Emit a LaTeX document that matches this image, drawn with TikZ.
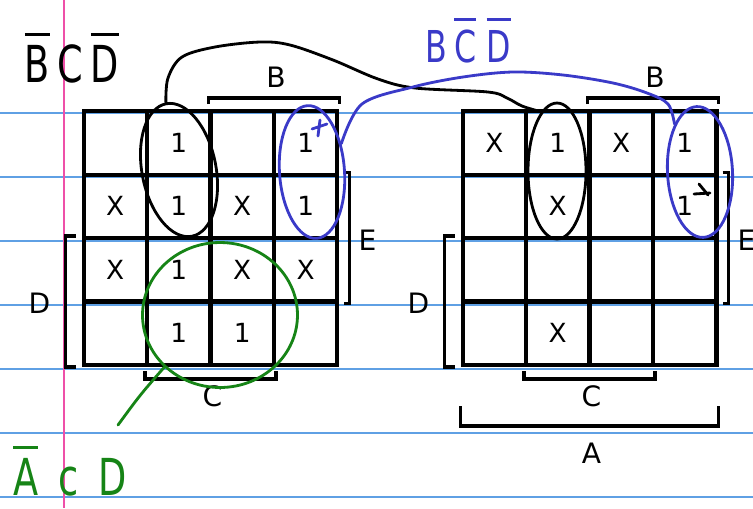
\documentclass[tikz,border=0pt]{standalone}
\usepackage{fontspec}
\setmainfont{DejaVu Sans}
\usetikzlibrary{positioning,calc,matrix,shapes.geometric}
\definecolor{penblue}{RGB}{58,58,200}
\definecolor{pengreen}{RGB}{22,132,22}
\definecolor{ruling}{RGB}{95,160,228}
\definecolor{pinkline}{RGB}{238,80,168}
\newcommand{\cmpl}[1]{\setbox0=\hbox{#1}\makebox[0pt][l]{\rule[\dimexpr\ht0+5pt\relax]{\wd0}{1.6pt}}\box0}
\newcommand{\scrawl}[1]{\scalebox{0.72}[1]{#1}}

\begin{document}
\begin{tikzpicture}[x=0.02cm,y=-0.02cm,
  kmap/.style={matrix of nodes,nodes in empty cells,row sep=-2.3pt,column sep=-2.3pt,
    nodes={draw,line width=2.3pt,minimum width=12.7mm,minimum height=12.7mm,anchor=center,font=\fontsize{15}{17}\selectfont}},
  brk/.style={line width=1.8pt},
  lbl/.style={font=\fontsize{16}{18}\selectfont},
  ink/.style={line width=1.6pt,line cap=round,line join=round},
  ring/.style={ink,draw,ellipse,inner sep=0pt},
  scr/.style={inner sep=0pt,anchor=base}]
\useasboundingbox (0,0) rectangle (753,508);
\fill[white] (0,0) rectangle (753,508);
\foreach \y in {113,177,...,497} \draw[ruling,line width=0.6pt] (0,\y) -- (753,\y);
\draw[pinkline,line width=0.8pt] (64,0) -- (64,508);
% the two maps
\matrix[kmap] (L) at (210.5,238) {
  & 1 & & 1 \\
X & 1 & X & 1 \\
X & 1 & X & X \\
  & 1 & 1 & \\
};
\matrix[kmap] (R) at (589.5,238) {
X & 1 & X & 1 \\
  & X & & 1 \\
  & & & \\
  & X & & \\
};
\foreach \m in {L,R} {
  \draw[brk] ($(\m-1-3.north west)+(0,-5)$) |- ($(\m-1-4.north east)+(0,-11)$) -- ++(0,6);
  \node[lbl] (\m B) at ($(\m-1-3.north east)+(0,-32)$) {B};
  \draw[brk] ($(\m-2-4.north east)+(4,0)$) -| ($(\m-3-4.south east)+(10,0)$) -- ++(-6,0);
  \node[lbl] (\m E) at ($(\m-2-4.south east)+(28,0)$) {E};
  \draw[brk] ($(\m-3-1.north west)+(-6,0)$) -| ($(\m-4-1.south west)+(-16,0)$) -- ++(10,0);
  \node[lbl] (\m D) at ($(\m-3-1.south west)+(-42,0)$) {D};
  \draw[brk] ($(\m-4-2.south west)+(0,4)$) |- ($(\m-4-3.south east)+(0,12)$) -- ++(0,-8);
  \node[lbl] (\m C) at ($(\m-4-2.south east)+(0,29)$) {C};
}
\draw[brk] ($(R-4-1.south west)+(0,39)$) |- ($(R-4-4.south east)+(0,59)$) -- ++(0,-20);
\node[lbl] (RA) at ($(R-4-2.south east)+(0,86)$) {A};
% pen marks
\node[ring,rotate=11,minimum width=1.48cm,minimum height=2.7cm] (blkL) at (179,170) {};
\node[ring,minimum width=1.16cm,minimum height=2.72cm] (blkR) at (557,171) {};
\node[ring,penblue,rotate=4,minimum width=1.3cm,minimum height=2.66cm] (bluL) at (312,172) {};
\node[ring,penblue,rotate=3,minimum width=1.3cm,minimum height=2.62cm] (bluR) at (700,172) {};
\node[ring,pengreen,minimum width=3.1cm,minimum height=2.9cm] (grn) at (220,315) {};
\draw[ink] plot[smooth,tension=0.55] coordinates {(blkL.north) (168,78) (182,57) (215,47) (260,42) (290,45) (333,60) (378,79) (415,88) (488,92) (507,98) (522,106) (blkR.105)};
\draw[ink,penblue] plot[smooth,tension=0.55] coordinates {(bluL.40) (362,104) (413,87) (463,77) (513,72) (563,75) (613,83) (647,93) (668,104) (bluR.115)};
\coordinate (gtail) at (118,425);
\draw[ink,pengreen] (grn.south west) .. controls (140,395) .. (gtail);
\draw[ink,penblue] (312,129) -- (327,124) (320,120) -- (318,136);
\draw[ink] (699,184) -- (708,195) (694,194) -- (710,193);
\node[scr,font=\fontsize{29}{30}\selectfont] (tBCD) at (72,82) {\scrawl{\cmpl{B}\hspace{6pt}C\hspace{6pt}\cmpl{D}}};
\node[scr,penblue,font=\fontsize{25}{26}\selectfont] (tBlue) at (468,62) {\scrawl{B\hspace{6pt}\cmpl{C}\hspace{8pt}\cmpl{D}}};
\node[scr,pengreen,font=\fontsize{29}{31}\selectfont] (tGreen) at (70,495) {\scrawl{\cmpl{A}\hspace{16pt}c\hspace{16pt}D}};
\end{tikzpicture}
\end{document}
